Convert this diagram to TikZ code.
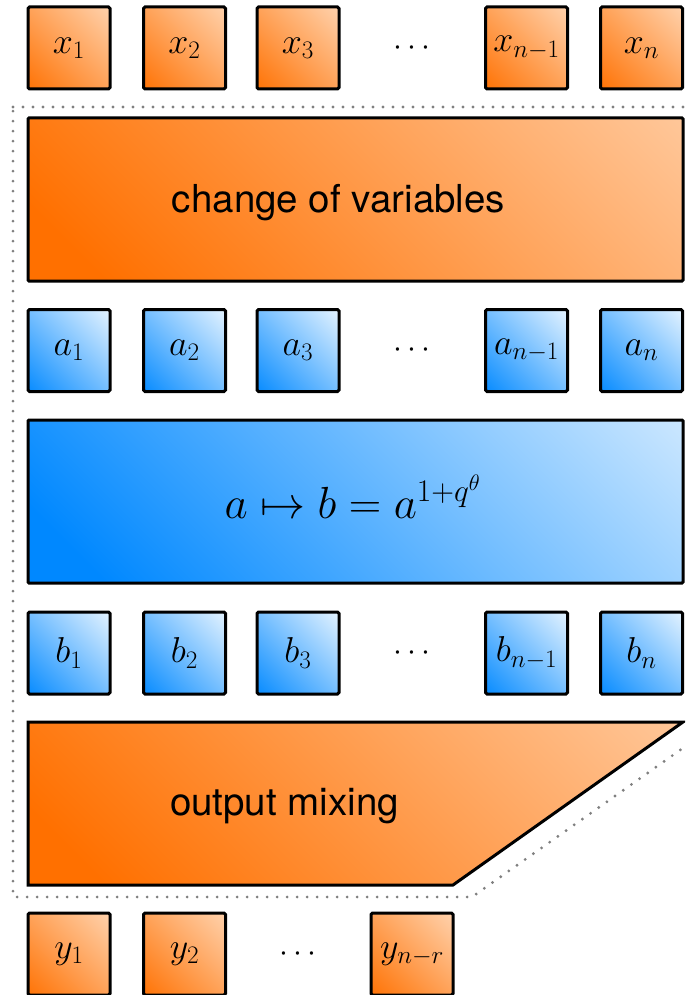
\RequirePackage{fix-cm}
\documentclass[tikz,border=0pt]{standalone}
\usetikzlibrary{shadings}
\usepackage[no-math]{fontspec}
\setmainfont{TeX Gyre Heros}
\definecolor{ordark}{HTML}{FF7000}
\definecolor{orlight}{HTML}{FFDABB}
\definecolor{bldark}{HTML}{0088FF}
\definecolor{bllight}{HTML}{F8FCFF}
\definecolor{dotgray}{HTML}{808080}
\pgfdeclarehorizontalshading{orBig}{100bp}{color(0bp)=(ordark); color(32bp)=(ordark); color(81bp)=(orlight); color(100bp)=(orlight)}
\pgfdeclarehorizontalshading{blBig}{100bp}{color(0bp)=(bldark); color(32bp)=(bldark); color(81bp)=(bllight); color(100bp)=(bllight)}
\pgfdeclarehorizontalshading{orSmall}{100bp}{color(0bp)=(ordark); color(12bp)=(ordark); color(92bp)=(orlight); color(100bp)=(orlight)}
\pgfdeclarehorizontalshading{blSmall}{100bp}{color(0bp)=(bldark); color(12bp)=(bldark); color(92bp)=(bllight); color(100bp)=(bllight)}
\begin{document}
\begin{tikzpicture}[x=1pt,y=-1pt,
  cell/.style={draw=black, line width=3pt, rounded corners=1.5pt, minimum width=82pt, minimum height=82pt, inner sep=0pt, font=\fontsize{36}{40}\selectfont, shading angle=45},
  orcell/.style={cell, shading=orSmall},
  blcell/.style={cell, shading=blSmall},
  orbig/.style={path picture={\shade[shading=orBig, shading angle=45, shift={(path picture bounding box.center)}] (-327.5,-327.5) rectangle (327.5,327.5);}},
  blbig/.style={path picture={\shade[shading=blBig, shading angle=45, shift={(path picture bounding box.center)}] (-327.5,-327.5) rectangle (327.5,327.5);}},
  bigbox/.style={draw=black, line width=3pt, rounded corners=1pt, minimum width=655pt, minimum height=163pt, inner sep=0pt},
  label/.style={font=\fontsize{38.5}{42}\selectfont, inner sep=0pt, anchor=base},
  mathlabel/.style={font=\fontsize{45}{50}\selectfont, inner sep=0pt, anchor=base},
  dotsnode/.style={font=\fontsize{32}{40}\selectfont, inner sep=0pt},
  frame/.style={draw=dotgray, line width=3.2pt, line cap=round, dash pattern=on 0pt off 10pt}
]
\useasboundingbox (0,0) rectangle (685,995);
\clip (0,0) rectangle (685,995);

% dotted frame
\coordinate (f1) at (13,107);
\coordinate (f2) at (700,107);
\coordinate (f3) at (700,736);
\coordinate (f4) at (472,897);
\coordinate (f5) at (13,897);
\draw[frame] (f1) -- (f2) -- (f3) -- (f4) -- (f5) -- cycle;

% x row
\node[orcell] (x1) at (69,48) {$x_1$};
\node[orcell] (x2) at (184.5,48) {$x_2$};
\node[orcell] (x3) at (298,48) {$x_3$};
\node[dotsnode] (xd) at (412,48) {$\cdots$};
\node[orcell] (xn1) at (526.5,48) {$x_{n-1}$};
\node[orcell] (xn) at (641.5,48) {$x_n$};

% change of variables
\node[bigbox, orbig] (cov) at (355.5,199.5) {};
\node[label] (covt) at (338.5,212) {change of variables};

% a row
\node[blcell] (a1) at (69,350.5) {$a_1$};
\node[blcell] (a2) at (184.5,350.5) {$a_2$};
\node[blcell] (a3) at (298,350.5) {$a_3$};
\node[dotsnode] (ad) at (412,350.5) {$\cdots$};
\node[blcell] (an1) at (526.5,350.5) {$a_{n-1}$};
\node[blcell] (an) at (641.5,350.5) {$a_n$};

% map box
\node[bigbox, blbig] (map) at (355.5,501.5) {};
\node[mathlabel] (mapt) at (352.6,518) {$a \mapsto b = a^{1+q^{\theta}}$};

% b row
\node[blcell] (b1) at (69,653) {$b_1$};
\node[blcell] (b2) at (184.5,653) {$b_2$};
\node[blcell] (b3) at (298,653) {$b_3$};
\node[dotsnode] (bd) at (412,653) {$\cdots$};
\node[blcell] (bn1) at (526.5,653) {$b_{n-1}$};
\node[blcell] (bn) at (641.5,653) {$b_n$};

% output mixing
\coordinate (m1) at (28,722);
\coordinate (m2) at (683,722);
\coordinate (m3) at (453,885);
\coordinate (m4) at (28,885);
\path[draw=black, line width=3pt, line join=miter, orbig] (m1) -- (m2) -- (m3) -- (m4) -- cycle;
\node[label] (mixt) at (284.5,815) {output mixing};

% y row
\node[orcell] (y1) at (69,954) {$y_1$};
\node[orcell] (y2) at (184.5,954) {$y_2$};
\node[dotsnode] (yd) at (298,954) {$\cdots$};
\node[orcell] (ynr) at (412,954) {$y_{n-r}$};
\end{tikzpicture}
\end{document}
